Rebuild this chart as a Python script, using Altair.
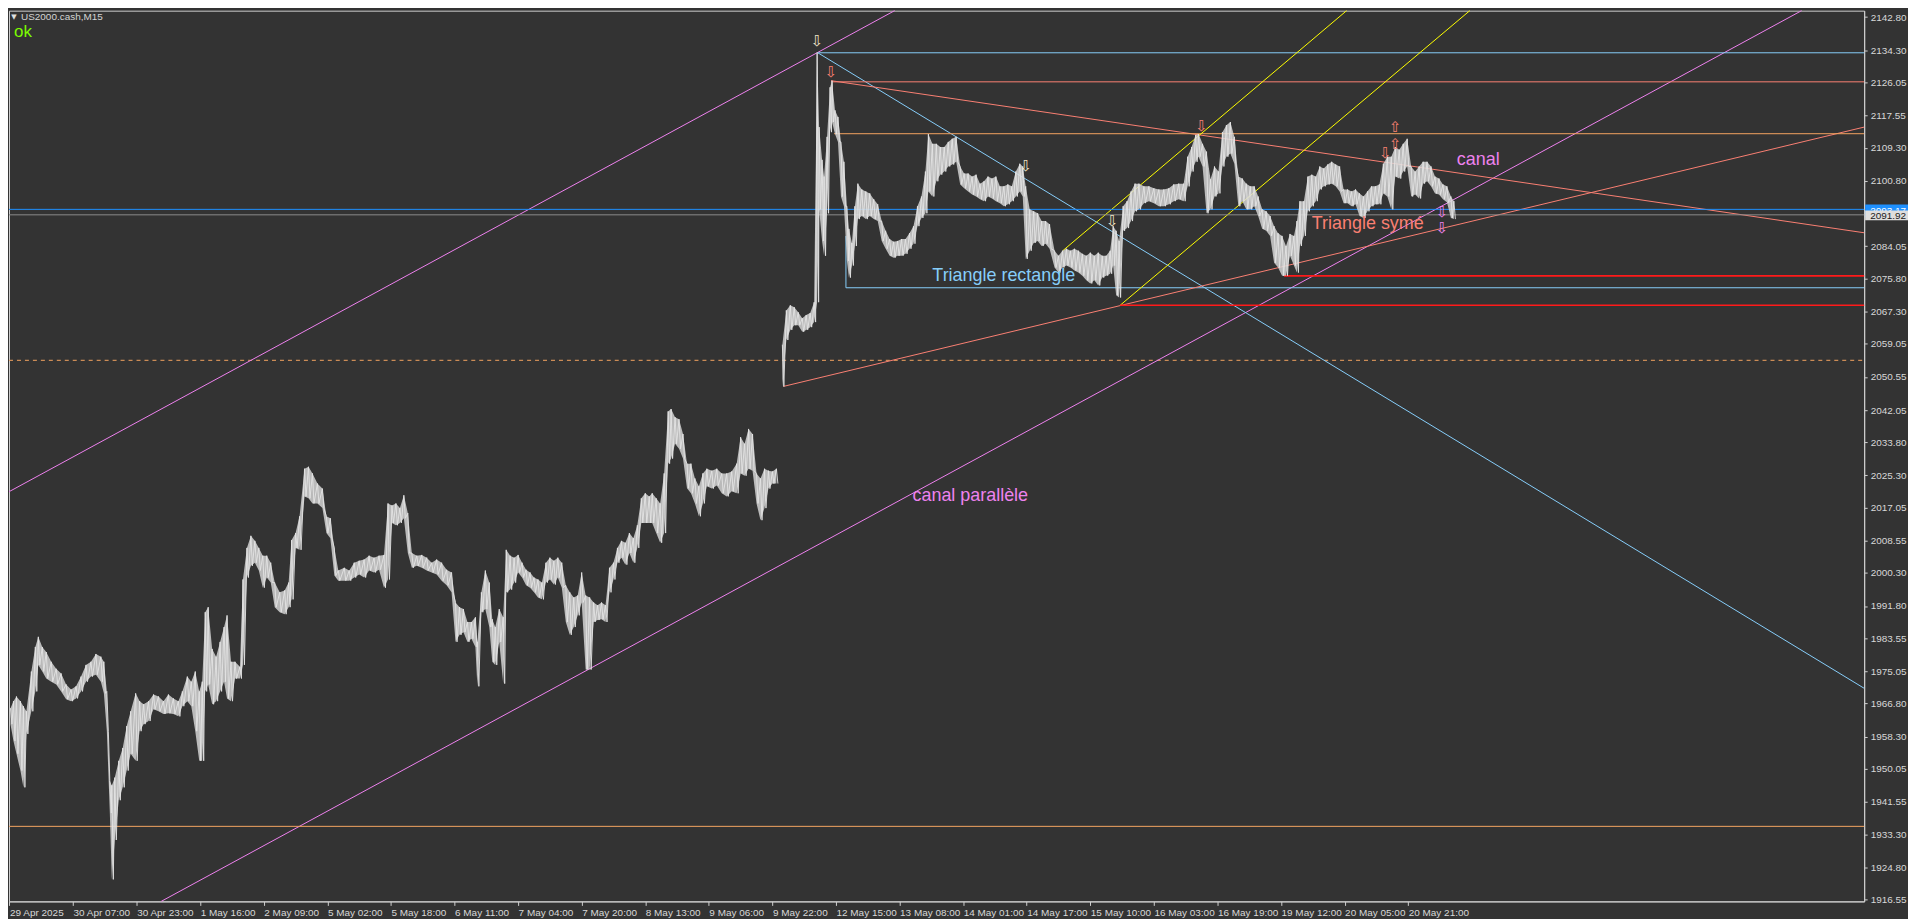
import altair as alt
import pandas as pd

# ---------------- price samples (bar index t, high, low) ----------------
# segment before the weekend gap
t_a = [4, 7, 10, 14, 17, 20, 25, 29, 32, 36,
       40, 45, 50, 55, 60, 65, 70, 75, 80, 85,
       90, 95, 98, 101, 104, 106, 109, 113, 117, 121,
       125, 130, 134, 138, 143, 148, 153, 158, 163, 168,
       173, 177, 182, 186, 190, 194, 197, 200, 203, 207,
       211, 215, 219, 222, 226, 230, 235, 238, 242, 246,
       250, 254, 258, 262, 266, 270, 275, 280, 284, 287,
       291, 295, 300, 304, 308, 313, 318, 322, 326, 330,
       334, 340, 345, 350, 355, 360, 365, 370, 375, 380,
       384, 388, 392, 396, 400, 404, 408, 413, 418, 423,
       428, 433, 438, 443, 448, 452, 456, 460, 464, 468,
       472, 474, 478, 482, 486, 489, 492, 496, 500, 503,
       507, 511, 515, 519, 523, 527, 531, 535, 539, 543,
       547, 551, 555, 559, 563, 567, 571, 575, 579, 583,
       587, 591, 595, 599, 603, 607, 611, 615, 619, 623,
       627, 631, 635, 639, 643, 647, 650, 654, 658, 662,
       666, 669, 673, 677, 681, 685, 689, 693, 697, 701,
       705, 710, 715, 720, 725, 730, 735, 739, 743, 747,
       751, 755, 759, 763, 767, 771, 775]
high_a = [1965.6, 1967.4, 1968.6, 1967.4, 1966.1, 1964.8, 1975.0, 1981.3, 1983.9, 1981.3,
          1980.0, 1977.5, 1975.7, 1974.5, 1971.7, 1970.4, 1971.2, 1973.7, 1976.7, 1977.5,
          1979.5, 1978.8, 1977.5, 1969.9, 1947.0, 1945.8, 1947.8, 1952.1, 1955.4, 1961.0,
          1964.8, 1969.4, 1967.4, 1966.6, 1967.4, 1969.1, 1968.6, 1967.4, 1969.1, 1968.1,
          1967.4, 1969.9, 1973.7, 1972.4, 1975.0, 1969.9, 1972.4, 1990.2, 1991.5, 1980.8,
          1978.8, 1982.6, 1986.4, 1989.4, 1977.5, 1977.5, 1976.2, 1998.6, 2006.7, 2009.8,
          2008.5, 2006.7, 2004.7, 2004.7, 2002.9, 1997.8, 1995.3, 1995.8, 1997.8, 2008.7,
          2010.5, 2014.8, 2027.0, 2027.5, 2025.8, 2023.2, 2021.9, 2014.8, 2014.3, 2006.7,
          2000.9, 2001.6, 2000.9, 2002.9, 2003.4, 2003.7, 2004.7, 2004.2, 2004.7, 2004.9,
          2018.1, 2017.6, 2018.1, 2016.9, 2020.2, 2015.6, 2005.4, 2004.7, 2004.9, 2004.2,
          2002.9, 2003.7, 2002.9, 2001.1, 2000.4, 1992.7, 1991.5, 1991.0, 1987.7, 1987.7,
          1988.9, 1982.6, 1995.3, 2000.9, 1997.8, 1988.4, 1986.4, 1991.0, 1988.9, 2006.2,
          2004.7, 2004.2, 2004.9, 2002.9, 2001.1, 2000.4, 1999.1, 1998.6, 1997.8, 2002.9,
          2004.2, 2003.4, 2004.2, 2002.9, 1997.1, 1995.3, 1994.0, 1994.5, 2000.4, 1994.5,
          1994.0, 1992.7, 1992.0, 1992.7, 1992.0, 2001.6, 2002.9, 2006.7, 2008.5, 2008.0,
          2010.5, 2009.2, 2012.5, 2019.4, 2020.7, 2019.9, 2020.7, 2019.4, 2018.1, 2025.8,
          2041.7, 2042.3, 2040.2, 2039.7, 2035.9, 2028.3, 2028.3, 2024.5, 2022.5, 2025.8,
          2027.0, 2026.5, 2027.0, 2025.8, 2025.8, 2026.3, 2028.3, 2035.1, 2033.4, 2037.2,
          2035.9, 2025.8, 2024.5, 2027.0, 2026.5, 2026.3, 2027.0]
low_a = [1961.5, 1957.2, 1953.9, 1949.6, 1945.3, 1959.0, 1964.8, 1969.9, 1976.7, 1975.0,
         1973.2, 1972.4, 1971.7, 1969.9, 1967.9, 1967.4, 1968.1, 1969.9, 1972.4, 1973.7,
         1974.2, 1972.4, 1969.4, 1959.7, 1938.7, 1921.7, 1931.8, 1942.0, 1945.3, 1949.6,
         1953.9, 1952.1, 1959.7, 1961.5, 1962.3, 1965.3, 1964.8, 1964.1, 1964.3, 1964.1,
         1963.5, 1966.1, 1967.4, 1966.1, 1959.7, 1952.1, 1952.1, 1969.9, 1971.7, 1966.6,
         1967.4, 1969.9, 1972.4, 1968.1, 1967.4, 1973.2, 1973.2, 1976.7, 1999.1, 2002.1,
         2002.9, 2000.9, 1996.5, 1999.1, 1997.8, 1991.5, 1990.2, 1989.7, 1991.5, 1993.5,
         2006.7, 2006.2, 2019.9, 2019.4, 2018.1, 2018.1, 2016.9, 2010.5, 2009.2, 1999.6,
         1998.3, 1998.3, 1998.3, 1999.1, 1999.9, 1999.1, 2000.9, 2000.4, 2001.1, 1996.5,
         1998.6, 2013.1, 2012.5, 2013.1, 2014.3, 2005.4, 2001.6, 2002.1, 2001.6, 2000.9,
         2000.4, 1999.9, 1998.3, 1997.1, 1995.3, 1982.6, 1984.4, 1985.1, 1982.6, 1983.4,
         1981.3, 1971.2, 1990.2, 1991.0, 1986.4, 1977.5, 1976.7, 1982.6, 1971.9, 1995.3,
         1996.0, 1997.8, 2000.4, 1999.1, 1997.1, 1996.5, 1995.3, 1994.0, 1993.5, 1997.8,
         1998.6, 1997.3, 1999.1, 1996.5, 1987.7, 1984.4, 1986.4, 1989.4, 1992.7, 1975.5,
         1975.5, 1987.7, 1988.2, 1988.4, 1987.7, 1995.3, 1998.6, 2002.9, 2004.2, 2002.4,
         2005.4, 2002.9, 2006.7, 2013.1, 2013.1, 2013.1, 2013.1, 2010.5, 2008.0, 2010.5,
         2028.3, 2029.6, 2033.4, 2032.1, 2029.6, 2022.0, 2020.7, 2018.1, 2014.8, 2018.1,
         2022.5, 2021.9, 2022.7, 2020.7, 2019.9, 2021.2, 2020.7, 2025.8, 2025.2, 2027.0,
         2026.5, 2018.1, 2013.8, 2016.9, 2021.9, 2023.2, 2023.2]

# segment after the weekend gap
t_b = [781, 785, 789, 793, 797, 801, 805, 809, 813, 816,
       818, 821, 823, 826, 829, 831, 834, 837, 840, 843,
       846, 848, 851, 854, 857, 861, 865, 869, 873, 877,
       881, 885, 889, 893, 897, 901, 905, 909, 913, 917,
       921, 925, 928, 932, 936, 940, 944, 948, 952, 956,
       960, 964, 968, 972, 976, 980, 984, 988, 992, 996,
       1000, 1004, 1008, 1012, 1016, 1020, 1023, 1026, 1030, 1034,
       1038, 1042, 1046, 1050, 1055, 1059, 1063, 1067, 1071, 1075,
       1079, 1083, 1087, 1091, 1095, 1099, 1103, 1107, 1111, 1114,
       1117, 1120, 1124, 1128, 1132, 1136, 1140, 1145, 1150, 1155,
       1160, 1165, 1170, 1175, 1180, 1185, 1189, 1193, 1197, 1200,
       1204, 1208, 1212, 1216, 1220, 1224, 1228, 1232, 1236, 1240,
       1244, 1248, 1252, 1256, 1260, 1264, 1268, 1272, 1276, 1280,
       1284, 1288, 1292, 1296, 1299, 1302, 1306, 1310, 1314, 1318,
       1322, 1326, 1330, 1334, 1338, 1342, 1346, 1350, 1354, 1358,
       1362, 1366, 1370, 1374, 1378, 1382, 1386, 1390, 1394, 1398,
       1402, 1406, 1410, 1414, 1418, 1422, 1426, 1430, 1434, 1438,
       1442, 1446, 1450, 1454, 1457]
high_b = [2058.8, 2067.6, 2068.9, 2068.4, 2067.1, 2065.6, 2066.4, 2066.9, 2069.7, 2133.7,
          2114.6, 2106.2, 2101.9, 2112.1, 2124.8, 2126.5, 2118.9, 2117.2, 2110.8, 2105.7,
          2094.3, 2088.5, 2084.9, 2094.3, 2100.1, 2098.6, 2098.1, 2097.6, 2096.1, 2094.8,
          2090.5, 2088.0, 2085.9, 2085.2, 2085.4, 2085.9, 2085.9, 2087.4, 2089.2, 2094.3,
          2096.8, 2103.2, 2112.8, 2110.3, 2110.3, 2109.5, 2109.5, 2110.8, 2111.6, 2112.1,
          2104.5, 2102.7, 2102.7, 2101.9, 2102.4, 2100.1, 2100.7, 2101.9, 2101.4, 2101.9,
          2099.4, 2099.4, 2099.9, 2099.4, 2103.2, 2105.2, 2104.5, 2099.4, 2093.5, 2093.0,
          2092.5, 2090.5, 2090.5, 2089.7, 2082.9, 2081.6, 2082.9, 2083.4, 2082.9, 2083.4,
          2082.9, 2082.1, 2081.6, 2082.4, 2081.6, 2082.4, 2081.6, 2081.6, 2082.9, 2089.2,
          2088.0, 2085.4, 2094.3, 2095.6, 2098.1, 2100.1, 2100.1, 2099.4, 2099.4, 2098.9,
          2098.6, 2098.6, 2098.9, 2099.9, 2100.1, 2100.1, 2107.0, 2109.5, 2112.6, 2112.8,
          2110.3, 2108.3, 2101.2, 2104.5, 2103.2, 2113.3, 2115.1, 2115.9, 2112.1, 2101.9,
          2101.4, 2100.1, 2099.4, 2099.4, 2096.8, 2093.5, 2093.0, 2091.8, 2089.2, 2087.4,
          2086.7, 2084.1, 2087.2, 2086.7, 2090.5, 2095.6, 2095.6, 2101.9, 2102.4, 2101.9,
          2104.5, 2104.0, 2105.0, 2105.7, 2105.0, 2104.5, 2098.6, 2098.6, 2098.1, 2098.6,
          2097.6, 2096.8, 2098.1, 2099.4, 2099.4, 2099.9, 2105.2, 2107.0, 2107.0, 2109.5,
          2108.8, 2110.3, 2111.6, 2104.5, 2103.2, 2104.5, 2105.7, 2105.7, 2104.5, 2101.9,
          2101.4, 2099.9, 2099.4, 2096.8, 2095.6]
low_b = [2048.1, 2060.0, 2062.6, 2063.8, 2063.8, 2062.1, 2062.6, 2063.3, 2064.6, 2069.7,
         2093.5, 2085.4, 2081.6, 2092.5, 2113.3, 2115.9, 2112.8, 2110.8, 2096.8, 2094.3,
         2080.3, 2076.0, 2079.1, 2084.1, 2091.0, 2091.8, 2091.0, 2091.8, 2091.0, 2090.5,
         2085.4, 2083.4, 2081.6, 2081.1, 2081.6, 2081.6, 2082.1, 2083.4, 2084.7, 2089.2,
         2091.3, 2092.5, 2098.1, 2096.8, 2100.7, 2102.4, 2103.2, 2104.5, 2105.0, 2105.7,
         2099.9, 2098.9, 2098.1, 2097.3, 2096.8, 2096.1, 2095.6, 2096.8, 2096.3, 2095.6,
         2095.1, 2094.3, 2094.8, 2095.6, 2096.8, 2098.1, 2096.8, 2080.8, 2082.9, 2084.9,
         2085.4, 2084.1, 2084.7, 2083.4, 2078.6, 2077.3, 2078.6, 2079.1, 2078.6, 2077.8,
         2077.3, 2076.5, 2075.3, 2074.5, 2075.3, 2074.0, 2076.0, 2076.5, 2077.0, 2079.1,
         2071.5, 2070.9, 2088.0, 2088.7, 2090.5, 2093.0, 2093.5, 2095.1, 2095.6, 2095.1,
         2094.3, 2094.3, 2094.8, 2095.6, 2096.1, 2095.6, 2099.4, 2103.2, 2105.7, 2107.0,
         2104.5, 2092.5, 2093.5, 2096.8, 2097.6, 2104.5, 2107.0, 2107.8, 2105.2, 2094.3,
         2095.6, 2093.5, 2093.5, 2094.3, 2091.8, 2088.5, 2088.0, 2086.7, 2079.8, 2078.6,
         2076.5, 2076.5, 2081.6, 2079.1, 2077.3, 2084.1, 2086.7, 2093.0, 2094.3, 2095.6,
         2098.6, 2099.4, 2099.9, 2100.1, 2099.4, 2098.1, 2095.1, 2095.1, 2094.3, 2094.8,
         2091.8, 2091.3, 2093.0, 2094.3, 2094.8, 2094.8, 2097.6, 2096.8, 2093.5, 2101.9,
         2101.4, 2103.2, 2104.5, 2096.8, 2097.3, 2096.3, 2100.1, 2100.7, 2099.4, 2097.6,
         2097.3, 2096.1, 2095.3, 2091.3, 2091.0]

# ---------------- drawn objects (bar index, price) ----------------
line_t1 = [2.5, 155.7, 816.7, 816.7, 845, 845, 830, 830, 782, 833, 2.5, 1063.3, 1121, 2.5, 2.5]
line_p1 = [2021.1, 1916.06, 2133.65, 2133.65, 2073.4, 2073.4, 2126.2, 2126.5, 2048.1, 2112.9, 1935.3, 2082.9, 2068.9, 2093.5, 2092.1]
line_t2 = [894, 1807, 1870, 1870, 1870, 845, 1870, 1870, 1870, 1870, 1870, 1349, 1473, 1870, 1870]
line_p2 = [2144.45, 2144.45, 1970.7, 2133.65, 2073.4, 2086.7, 2126.2, 2087.5, 2114.6, 2112.9, 1935.3, 2144.45, 2144.45, 2093.5, 2092.1]
line_kind = ["canal", "canal", "rect", "rect", "rect", "rect", "sym", "sym", "sym",
             "niveau", "niveau", "jaune", "jaune", "ask", "bid"]

support_t1 = [1286, 1121]
support_t2 = [1870, 1870]
support_p = [2076.45, 2068.9]

dashed_p = [2054.8]

arrow_t = [816, 830, 1026, 1113, 1203, 1398, 1398, 1388, 1445, 1445]
arrow_p = [2136.7, 2128.8, 2104.5, 2090.5, 2114.9, 2114.6, 2110.3, 2108.0, 2092.8, 2088.7]
arrow_s = ["⇩", "⇩", "⇩", "⇩", "⇩", "⇧", "⇧", "⇩", "⇩", "⇩"]
arrow_kind = ["neutre", "sym", "neutre", "neutre", "sym", "sym", "sym", "sym", "canal", "canal"]

label_text = ["Triangle rectangle", "Triangle symé", "canal", "canal parallèle"]
label_t = [932, 1314, 1460, 912]
label_p = [2076.5, 2089.7, 2106.2, 2019.9]
label_kind = ["rect", "sym", "canal", "canal"]

x_labels = ["29 Apr 2025", "30 Apr 07:00", "30 Apr 23:00", "1 May 16:00", "2 May 09:00",
            "5 May 02:00", "5 May 18:00", "6 May 11:00", "7 May 04:00", "7 May 20:00",
            "8 May 13:00", "9 May 06:00", "9 May 22:00", "12 May 15:00", "13 May 08:00",
            "14 May 01:00", "14 May 17:00", "15 May 10:00", "16 May 03:00", "16 May 19:00",
            "19 May 12:00", "20 May 05:00", "20 May 21:00"]
y_ticks = [2142.80, 2134.30, 2126.05, 2117.55, 2109.30, 2100.80, 2084.05, 2075.80, 2067.30,
           2059.05, 2050.55, 2042.05, 2033.80, 2025.30, 2017.05, 2008.55, 2000.30, 1991.80,
           1983.55, 1975.05, 1966.80, 1958.30, 1950.05, 1941.55, 1933.30, 1924.80, 1916.55]

ask_price, bid_price = 2093.17, 2091.92

# ---------------- chart ----------------
W, H = 1862, 894
BG = "#333333"
FONT = "Liberation Sans"

xs = alt.Scale(domain=[2.5, 1870], nice=False, zero=False)
ys = alt.Scale(domain=[1916.06, 2144.45], nice=False, zero=False)

x_vals = [3 + 64 * i for i in range(len(x_labels))]
label_arr = "[" + ",".join("'" + s + "'" for s in x_labels) + "]"
xaxis = alt.Axis(values=x_vals, labelExpr=label_arr + "[round((datum.value - 3) / 64)]",
                 labelAlign="left", labelBaseline="top", labelPadding=2, tickSize=4,
                 labelFlush=False, labelOverlap=False, labelBound=False, grid=False, title=None)
yaxis = alt.Axis(orient="right", values=y_ticks, format=".2f", tickSize=3, labelPadding=3,
                 labelFlush=False, labelOverlap=False, grid=False, title=None)

kind_scale = alt.Scale(
    domain=["canal", "rect", "sym", "niveau", "jaune", "ask", "bid", "neutre"],
    range=["#EE82EE", "#87CEFA", "#FA8072", "#F4A460", "#FFFF00", "#1E90FF", "#8a8a8a", "#f0e4c8"])

rows = []
band_rows = []
o = 0
for seg, (tt, hh, ll) in enumerate([(t_a, high_a, low_a), (t_b, high_b, low_b)]):
    for ti, h, l in zip(tt, hh, ll):
        rows.append({"t": ti, "p": h, "o": o, "seg": seg}); o += 1
        rows.append({"t": ti + 1.5, "p": l, "o": o, "seg": seg}); o += 1
        band_rows.append({"t": ti, "p": h, "p2": l, "seg": seg})
price_df = pd.DataFrame(rows)
band_df = pd.DataFrame(band_rows)

lines_df = pd.DataFrame({"t": line_t1, "p": line_p1, "t2": line_t2, "p2": line_p2, "kind": line_kind})
support_df = pd.DataFrame({"t": support_t1, "t2": support_t2, "p": support_p})
dashed_df = pd.DataFrame({"t": [2.5], "t2": [1870], "p": dashed_p})
arrows_df = pd.DataFrame({"t": arrow_t, "p": arrow_p, "s": arrow_s, "kind": arrow_kind})
labels_df = pd.DataFrame({"t": label_t, "p": label_p, "s": label_text, "kind": label_kind})

X = lambda: alt.X("t:Q", scale=xs, axis=xaxis)
Y = lambda f="p": alt.Y(f + ":Q", scale=ys, axis=yaxis)

trend = alt.Chart(lines_df).mark_rule(strokeWidth=1).encode(
    x=X(), y=Y(), x2="t2:Q", y2="p2:Q",
    color=alt.Color("kind:N", scale=kind_scale, legend=None))

support = alt.Chart(support_df).mark_rule(strokeWidth=1.6, color="#FF1a1a").encode(
    x=X(), x2="t2:Q", y=Y())

dashed = alt.Chart(dashed_df).mark_rule(strokeWidth=1, color="#F4A460", strokeDash=[4, 4]).encode(
    x=X(), x2="t2:Q", y=Y())

band = alt.Chart(band_df).mark_area(color="#dcdcdc", opacity=0.8, clip=True).encode(
    x=X(), y=Y(), y2="p2:Q", detail="seg:N")

price = alt.Chart(price_df).mark_line(color="#e4e4e4", strokeWidth=0.9, clip=True).encode(
    x=X(), y=Y(), detail="seg:N", order="o:Q")

arrows = alt.Chart(arrows_df).mark_text(font="DejaVu Sans", fontSize=15, baseline="middle").encode(
    x=X(), y=Y(), text="s:N",
    color=alt.Color("kind:N", scale=kind_scale, legend=None))

labels = alt.Chart(labels_df).mark_text(font=FONT, fontSize=18, align="left", baseline="middle").encode(
    x=X(), y=Y(), text="s:N",
    color=alt.Color("kind:N", scale=kind_scale, legend=None))

box_df = pd.DataFrame({"p": [ask_price + 1.6, bid_price + 1.3],
                       "p2": [ask_price - 1.6, bid_price - 1.2],
                       "c": [ask_price, bid_price],
                       "s": [f"{ask_price:.2f}", f"{bid_price:.2f}"],
                       "kind": ["ask", "bid"]})
ask_box = alt.Chart(box_df.iloc[[0]]).mark_rect(color="#1E90FF").encode(
    x=alt.value(W + 1), x2=alt.value(W + 44), y=Y(), y2="p2:Q")
ask_txt = alt.Chart(box_df.iloc[[0]]).mark_text(font=FONT, fontSize=10, align="left",
                                                 baseline="middle", color="#ffffff").encode(
    x=alt.value(W + 6), y=Y("c"), text="s:N")
bid_box = alt.Chart(box_df.iloc[[1]]).mark_rect(color="#dedede").encode(
    x=alt.value(W + 1), x2=alt.value(W + 44), y=Y(), y2="p2:Q")
bid_txt = alt.Chart(box_df.iloc[[1]]).mark_text(font=FONT, fontSize=10, align="left",
                                                 baseline="middle", color="#1a1a1a").encode(
    x=alt.value(W + 6), y=Y("c"), text="s:N")

title_df = pd.DataFrame({"s": ["US2000.cash,M15"]})
title_tri = alt.Chart(title_df).mark_text(text="▼", font="DejaVu Sans", fontSize=7,
                                          color="#e0e0e0", baseline="middle").encode(
    x=alt.value(5), y=alt.value(6))
title_txt = alt.Chart(title_df).mark_text(font=FONT, fontSize=10, color="#d4d4d4",
                                          align="left", baseline="middle").encode(
    x=alt.value(12), y=alt.value(6), text="s:N")
ok_txt = alt.Chart(pd.DataFrame({"s": ["ok"]})).mark_text(font=FONT, fontSize=17, color="#7CFC00",
                                                          align="left", baseline="alphabetic").encode(
    x=alt.value(5), y=alt.value(26), text="s:N")

chart = alt.layer(
    dashed, trend, support, band, price, arrows, labels,
    ask_box, ask_txt, bid_box, bid_txt, title_tri, title_txt, ok_txt
).properties(
    width=W, height=H, background=BG, padding=0
).configure_view(
    stroke="#cfcfcf", strokeWidth=1, fill=BG
).configure_axis(
    labelFont=FONT, labelFontSize=10, labelColor="#d8d8d8",
    tickColor="#d0d0d0", domainColor="#d0d0d0", domainWidth=1, tickWidth=1
)

chart.save("out.html", embed_options={"renderer": "svg", "actions": False})
